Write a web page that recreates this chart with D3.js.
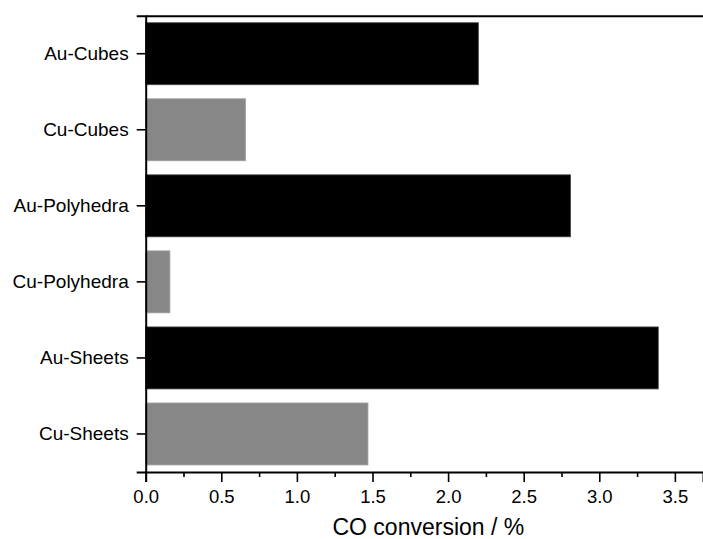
<!DOCTYPE html>
<html>
<head>
<meta charset="utf-8">
<script src="https://cdn.jsdelivr.net/npm/d3@7"></script>
<style>
  body { margin: 0; background: #fff; }
  svg { display: block; font-family: "Liberation Sans", Arial, sans-serif; }
</style>
</head>
<body>
<div id="chart"></div>
<script>
// data
const categories = ['Au-Cubes', 'Cu-Cubes', 'Au-Polyhedra', 'Cu-Polyhedra', 'Au-Sheets', 'Cu-Sheets'];
const conversion = [2.20, 0.66, 2.81, 0.16, 3.39, 1.47];
const metal = ['Au', 'Cu', 'Au', 'Cu', 'Au', 'Cu'];
const majorTicks = [0, 0.5, 1.0, 1.5, 2.0, 2.5, 3.0, 3.5];
const minorTicks = [0.25, 0.75, 1.25, 1.75, 2.25, 2.75, 3.25];
const xMax = 3.686;
const xTitle = 'CO conversion / %';

const width = 703, height = 539;
const margin = { top: 15.7, right: 0, bottom: 67, left: 145.7 };
const innerW = width - margin.left - margin.right;
const innerH = height - margin.top - margin.bottom;

const svg = d3.select('#chart')
  .append('svg')
  .attr('width', width)
  .attr('height', height);

const g = svg.append('g')
  .attr('transform', `translate(${margin.left},${margin.top})`);

const x = d3.scaleLinear().domain([0, xMax]).range([0, innerW]);
const y = d3.scaleBand().domain(categories).range([0, innerH])
  .paddingInner(0.185).paddingOuter(0.0925);

const color = { Au: '#000000', Cu: '#878787' };

// bars
g.selectAll('.bar')
  .data(categories)
  .enter()
  .append('rect')
  .attr('class', 'bar')
  .attr('x', x(0))
  .attr('y', d => y(d))
  .attr('width', (d, i) => x(conversion[i]) - x(0))
  .attr('height', y.bandwidth())
  .style('fill', (d, i) => color[metal[i]])
  .style('stroke', (d, i) => metal[i] === 'Au' ? '#444' : '#a0a0a0')
  .style('stroke-width', 0.8);

// minor x ticks
g.append('g')
  .attr('class', 'x-minor')
  .attr('transform', `translate(0,${innerH})`)
  .call(d3.axisBottom(x).tickValues(minorTicks).tickSize(5).tickFormat(''));

// major x ticks
g.append('g')
  .attr('class', 'x-axis')
  .attr('transform', `translate(0,${innerH})`)
  .call(d3.axisBottom(x).tickValues(majorTicks).tickSize(10).tickPadding(8)
    .tickFormat(d3.format('.1f')));

// y axis
g.append('g')
  .attr('class', 'y-axis')
  .call(d3.axisLeft(y).tickSize(9).tickPadding(8));

// top frame line
g.append('g')
  .attr('class', 'top-axis')
  .call(d3.axisTop(x).tickValues([]).tickSizeOuter(0));

svg.selectAll('.domain').style('stroke', '#000').style('stroke-width', 2);
svg.selectAll('.x-minor .domain').remove();
svg.selectAll('.tick line').style('stroke', '#000').style('stroke-width', 1.6);
svg.selectAll('.x-axis text')
  .style('font-size', '18.5px')
  .style('fill', '#000')
  .style('font-family', '"Liberation Sans", Arial, sans-serif');
svg.selectAll('.y-axis text')
  .style('font-size', '19px')
  .style('fill', '#000')
  .style('font-family', '"Liberation Sans", Arial, sans-serif');

// axis title
svg.append('text')
  .attr('x', margin.left + innerW / 2 + 4)
  .attr('y', 535)
  .attr('text-anchor', 'middle')
  .style('font-size', '23px')
  .style('fill', '#000')
  .text(xTitle);
</script>
</body>
</html>
